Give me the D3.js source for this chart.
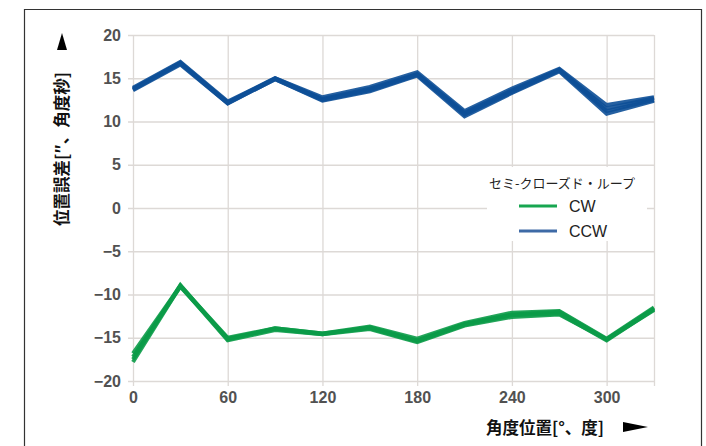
<!DOCTYPE html>
<html>
<head>
<meta charset="utf-8">
<script src="https://cdn.jsdelivr.net/npm/d3@7"></script>
<style>
  html, body { margin: 0; padding: 0; background: #fff; }
  svg { display: block; }
</style>
</head>
<body>
<svg id="chart" width="706" height="446"></svg>
<script>
// Angular positions (degrees), sampled every 30°
const angles = [0, 30, 60, 90, 120, 150, 180, 210, 240, 270, 300, 330];

// Position error (arc-seconds), repeated runs, clockwise direction
const cwRun1 = [-16.8, -9.0, -15.0, -13.9, -14.5, -13.7, -15.1, -13.3, -12.1, -11.9, -15.1, -11.5];
const cwRun2 = [-17.2, -9.1, -15.1, -14.0, -14.6, -13.8, -15.3, -13.4, -12.3, -12.0, -15.2, -11.6];
const cwRun3 = [-17.5, -8.9, -15.2, -13.9, -14.5, -13.9, -15.4, -13.5, -12.4, -12.2, -15.3, -11.7];
const cwRun4 = [-17.8, -9.0, -15.3, -14.1, -14.6, -14.0, -15.5, -13.6, -12.6, -12.3, -15.2, -11.8];

// Position error (arc-seconds), repeated runs, counter-clockwise direction
const ccwRun1 = [13.9, 16.9, 12.3, 15.0, 12.8, 14.0, 15.7, 11.2, 13.8, 16.1, 11.9, 12.8];
const ccwRun2 = [13.8, 16.8, 12.2, 15.0, 12.6, 13.8, 15.5, 11.0, 13.6, 16.0, 11.5, 12.7];
const ccwRun3 = [13.7, 16.7, 12.1, 14.9, 12.5, 13.6, 15.4, 10.8, 13.4, 15.9, 11.2, 12.5];
const ccwRun4 = [13.6, 16.6, 12.1, 14.9, 12.4, 13.5, 15.3, 10.6, 13.3, 15.8, 10.9, 12.4];

const cwRuns = [cwRun1, cwRun2, cwRun3, cwRun4];
const ccwRuns = [ccwRun1, ccwRun2, ccwRun3, ccwRun4];

// Axis ticks and labels
const xTicks = [0, 60, 120, 180, 240, 300];
const yTicks = [20, 15, 10, 5, 0, -5, -10, -15, -20];
const legendTitle = "セミ-クローズド・ループ";
const seriesNames = ["CW", "CCW"];
const yTitle = "位置誤差[″、角度秒]";
const xTitle = "角度位置[°、度]";

const colors = { CW: "#0b9b48", CCW: "#0d4f97" };
const legendColors = { CW: "#17a650", CCW: "#3e6aa6" };

const svg = d3.select("#chart");
const margin = { left: 133, right: 706 - 654, top: 35, bottom: 446 - 381 };
const W = 706, H = 446;

// Outer frame
svg.append("path")
  .attr("d", `M24.5,${H + 2} V9.5 H701.5 V${H + 2}`)
  .attr("fill", "none")
  .attr("stroke", "#333")
  .attr("stroke-width", 1.2);

const x = d3.scaleLinear().domain([0, 330]).range([margin.left, W - margin.right]);
const y = d3.scaleLinear().domain([-20, 20]).range([H - margin.bottom, margin.top]);

const gridColor = "#ddd9d6";
const tickFont = "Liberation Sans, Arial, sans-serif";

// Horizontal gridlines with short left ticks
svg.append("g")
  .attr("transform", `translate(${margin.left},0)`)
  .call(d3.axisLeft(y).tickValues(yTicks).tickSize(-(x.range()[1] - x.range()[0])).tickPadding(10).tickFormat(d3.format("d")))
  .call(g => g.select(".domain").remove())
  .call(g => g.selectAll(".tick line").attr("stroke", gridColor).attr("x1", -5).attr("stroke-width", 1.3))
  .call(g => g.selectAll(".tick text")
    .attr("fill", "#3a3a3a")
    .attr("font-family", tickFont)
    .attr("font-size", 16)
    .attr("font-weight", "bold")
    .attr("x", -12)
    .style("opacity", 0.88));

// Vertical gridlines with short bottom ticks
svg.append("g")
  .attr("transform", `translate(0,${H - margin.bottom})`)
  .call(d3.axisBottom(x).tickValues(xTicks.concat([330])).tickSize(-(y.range()[0] - y.range()[1])).tickPadding(11).tickFormat(d => d === 330 ? "" : d))
  .call(g => g.select(".domain").remove())
  .call(g => g.selectAll(".tick line").attr("stroke", gridColor).attr("y1", 5).attr("stroke-width", 1.3))
  .call(g => g.selectAll(".tick text")
    .attr("fill", "#3a3a3a")
    .attr("font-family", tickFont)
    .attr("font-size", 16)
    .attr("font-weight", "bold")
    .style("opacity", 0.88));

// Legend background hides gridlines beneath
svg.append("rect")
  .attr("x", 487).attr("y", 167).attr("width", 160).attr("height", 74)
  .attr("fill", "#fff");

const line = d3.line()
  .x((d, i) => x(angles[i]))
  .y(d => y(d));

function drawRuns(runs, color) {
  const g = svg.append("g");
  runs.forEach(run => {
    g.append("path")
      .datum(run)
      .attr("d", line)
      .attr("fill", "none")
      .attr("stroke", color)
      .attr("stroke-width", 4)
      .attr("stroke-linejoin", "miter")
      .attr("stroke-opacity", 0.9);
  });
}
drawRuns(cwRuns, colors.CW);
drawRuns(ccwRuns, colors.CCW);

// Legend
const lg = svg.append("g");
lg.append("text")
  .attr("x", 562).attr("y", 188)
  .attr("text-anchor", "middle")
  .attr("font-family", "Noto Sans CJK JP, sans-serif")
  .attr("font-size", 13)
  .attr("fill", "#222")
  .text(legendTitle);
seriesNames.forEach((name, i) => {
  const yy = 206 + i * 25;
  lg.append("line")
    .attr("x1", 519).attr("x2", 557).attr("y1", yy).attr("y2", yy)
    .attr("stroke", legendColors[name]).attr("stroke-width", 3);
  lg.append("text")
    .attr("x", 569).attr("y", yy + 6)
    .attr("font-family", tickFont)
    .attr("font-size", 16)
    .attr("fill", "#222")
    .text(name);
});

// Axis titles with direction arrows
svg.append("text")
  .attr("transform", "translate(68,149) rotate(-90)")
  .attr("text-anchor", "middle")
  .attr("font-family", "Noto Sans CJK JP, sans-serif")
  .attr("font-size", 16.5)
  .attr("font-weight", "bold")
  .attr("fill", "#111")
  .text(yTitle);
svg.append("path")
  .attr("d", "M62,33 L67,50 L57,50 Z")
  .attr("fill", "#000");

svg.append("text")
  .attr("x", 545).attr("y", 434)
  .attr("text-anchor", "middle")
  .attr("font-family", "Noto Sans CJK JP, sans-serif")
  .attr("font-size", 16.5)
  .attr("font-weight", "bold")
  .attr("fill", "#111")
  .text(xTitle);
svg.append("path")
  .attr("d", "M623,422 L648,427 L623,432 Z")
  .attr("fill", "#000");
</script>
</body>
</html>
